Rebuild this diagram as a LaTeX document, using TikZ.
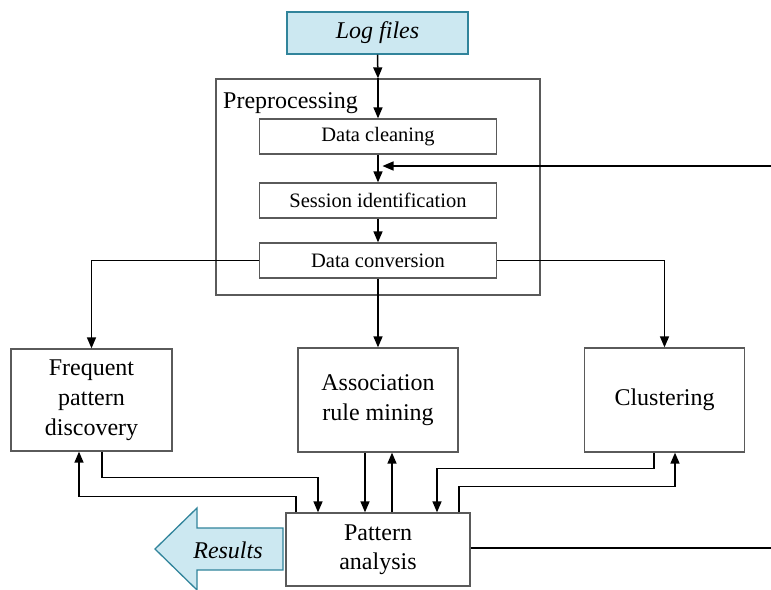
\documentclass[tikz,border=0pt]{standalone}
\usepackage{fontspec}
\setmainfont{Liberation Serif}
\usetikzlibrary{arrows.meta,calc}
\definecolor{inbox}{HTML}{CCE8F1}
\definecolor{inedge}{HTML}{31849B}
\definecolor{boxedge}{HTML}{5A5A5A}
\begin{document}
\begin{tikzpicture}[x=1pt,y=-1pt,
  box/.style={draw=boxedge,line width=1.3pt,fill=white,inner sep=0pt,align=center},
  smallbox/.style={box,minimum width=237pt,minimum height=35pt,font=\fontsize{20.5}{25}\selectfont},
  bigbox/.style={box,minimum width=160pt,minimum height=104pt,font=\fontsize{24}{30}\selectfont},
  link/.style={line width=1.5pt,black},
  arr/.style={link,-{Triangle[length=11pt,width=9pt]}},
  ioshape/.style={draw=inedge,line width=1.3pt,fill=inbox}]
\useasboundingbox (0,0) rectangle (771,589);

% input
\node[box,ioshape,minimum width=181pt,minimum height=42pt,
      font=\fontsize{24}{28}\selectfont\itshape] (logf) at (377.5,33) {Log files};

% preprocessing stage
\node[box,minimum width=324pt,minimum height=216pt] (prep) at (378,187) {};
\node[anchor=base west,inner sep=0pt,font=\fontsize{24}{28}\selectfont] (preplbl) at (223,108) {Preprocessing};
\node[smallbox] (dc) at (378,136.5) {Data cleaning};
\node[smallbox] (si) at (378,200.5) {Session identification};
\node[smallbox] (dconv) at (378,260.5) {Data conversion};

% mining methods
\node[bigbox,minimum width=161pt,minimum height=102pt] (freq) at (91.5,400) {Frequent\\pattern\\discovery};
\node[bigbox] (assoc) at (378,400) {Association\\rule mining};
\node[bigbox] (clus) at (664.5,400) {Clustering};

% analysis
\node[box,minimum width=184pt,minimum height=73pt,font=\fontsize{24}{28.5}\selectfont] (pa) at (378,549.5) {Pattern\\analysis};

% output arrow
\draw[ioshape] (283,528) -- (197,528) -- (197,508) -- (155,549) -- (197,590) -- (197,570) -- (283,570) -- cycle;
\node[font=\fontsize{24}{28}\selectfont\itshape] (res) at (228,550) {Results};

% flow through preprocessing
\draw[arr] (logf.south) -- (prep.north);
\draw[arr] (prep.north) -- (dc.north);
\draw[arr] (dc.south) -- (si.north);
\draw[arr] (si.south) -- (dconv.north);
\coordinate (fbin) at (771,166);
\coordinate (fbtip) at (382.5,166);
\draw[arr] (fbin) -- (fbtip);

% to the mining methods
\draw[arr] (dconv.west) -| (freq.north);
\draw[arr] (dconv.south) -- (assoc.north);
\draw[arr] (dconv.east) -| (clus.north);

% mining methods <-> pattern analysis
\draw[arr] ([xshift=10.5pt]freq.south) -- ++(0,26) -| ([xshift=-60pt]pa.north);
\draw[arr] ([xshift=-82pt]pa.north) -- ++(0,-16) -| ([xshift=-12.5pt]freq.south);
\draw[arr] ([xshift=-13pt]assoc.south) -- ([xshift=-13pt]pa.north);
\draw[arr] ([xshift=14pt]pa.north) -- ([xshift=14pt]assoc.south);
\draw[arr] ([xshift=-10.5pt]clus.south) -- ++(0,16) -| ([xshift=59pt]pa.north);
\draw[arr] ([xshift=81pt]pa.north) -- ++(0,-26) -| ([xshift=10.5pt]clus.south);

% feedback leaving pattern analysis
\coordinate (fbout) at (771,548);
\draw[link] (pa.east |- fbout) -- (fbout);
\end{tikzpicture}
\end{document}
